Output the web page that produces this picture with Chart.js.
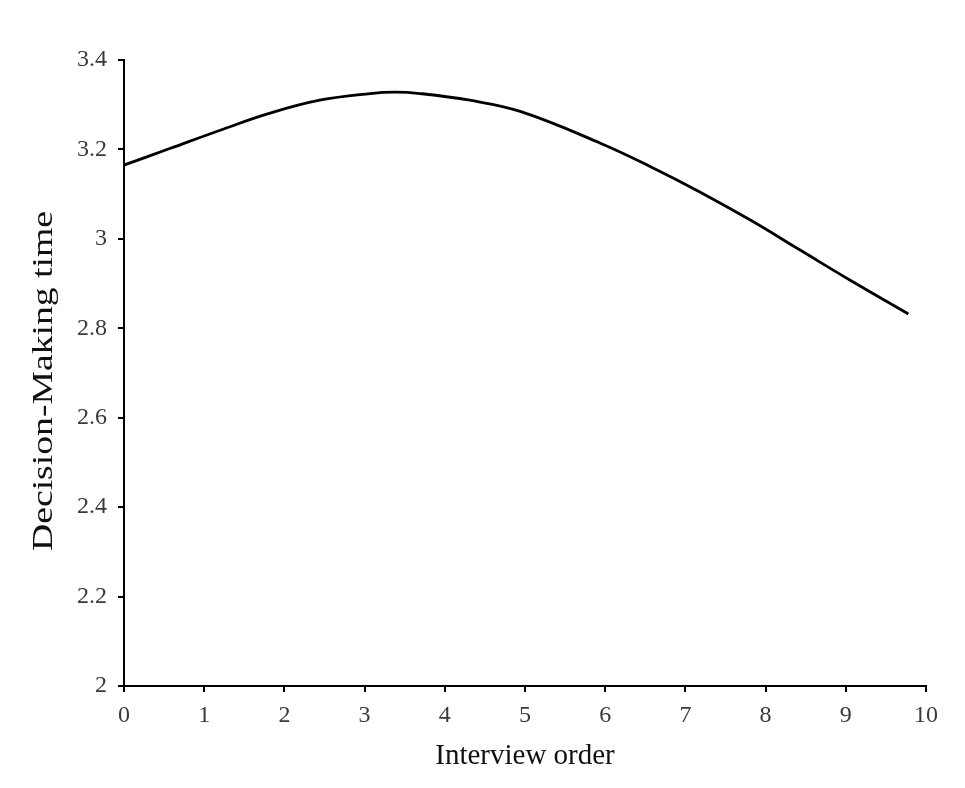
<!DOCTYPE html>
<html>
<head>
<meta charset="utf-8">
<script src="https://cdn.jsdelivr.net/npm/chart.js@4/dist/chart.umd.min.js"></script>
<style>
  html, body { margin: 0; padding: 0; background: #fff; }
  canvas { display: block; }
</style>
</head>
<body>
<canvas id="chart" width="965" height="788"></canvas>
<script>
// Curve
const interviewOrder = [0, 0.57, 1.2, 1.82, 2.44, 3.07, 3.38, 3.69, 4.31, 4.94, 5.94, 6.56, 7.18, 7.81, 8.43, 9.05, 9.78];
const decisionTime = [3.165, 3.202, 3.243, 3.281, 3.31, 3.325, 3.328, 3.325, 3.31, 3.285, 3.214, 3.162, 3.105, 3.042, 2.975, 2.908, 2.832];

const xTicks = [0, 1, 2, 3, 4, 5, 6, 7, 8, 9, 10];
const yTicks = [2, 2.2, 2.4, 2.6, 2.8, 3, 3.2, 3.4];

const xTitle = 'Interview order';
const yTitle = 'Decision-Making time';

const points = interviewOrder.map((x, i) => ({ x: x, y: decisionTime[i] }));

const font = 'Liberation Serif';
const textColor = '#3a3a3a';

// y title in the picture runs a bit longer than the plain font
const stretchedYTitle = {
    id: 'stretchedYTitle',
    afterDraw(chart) {
        const ctx = chart.ctx;
        ctx.save();
        ctx.font = '30px "' + font + '"';
        ctx.fillStyle = '#111';
        ctx.textAlign = 'center';
        ctx.textBaseline = 'alphabetic';
        const w = ctx.measureText(yTitle).width;
        ctx.translate(52, 381);
        ctx.rotate(-Math.PI / 2);
        ctx.scale(340 / w, 1);
        ctx.fillText(yTitle, 0, 0);
        ctx.restore();
    }
};

new Chart(document.getElementById('chart'), {
    type: 'line',
    data: {
        datasets: [{
            data: points,
            borderColor: '#000',
            borderWidth: 2.8,
            pointRadius: 0,
            fill: false,
            tension: 0.4
        }]
    },
    options: {
        responsive: false,
        animation: false,
        layout: { padding: { top: 60, right: 39, left: 0, bottom: 0 } },
        plugins: {
            legend: { display: false },
            tooltip: { enabled: false }
        },
        scales: {
            x: {
                type: 'linear',
                min: 0,
                max: 10,
                afterBuildTicks: scale => { scale.ticks = xTicks.map(v => ({ value: v })); },
                afterFit: scale => { scale.height = 102; },
                grid: { drawOnChartArea: false, drawTicks: true, tickLength: 6, color: '#000', lineWidth: 2 },
                border: { display: true, color: '#000', width: 2 },
                ticks: {
                    padding: 9,
                    color: textColor,
                    font: { family: font, size: 24 },
                    maxRotation: 0,
                    callback: v => String(v)
                },
                title: {
                    display: true,
                    text: xTitle,
                    color: '#111',
                    font: { family: font, size: 29 },
                    padding: { top: 0, bottom: 14 }
                }
            },
            y: {
                type: 'linear',
                min: 2,
                max: 3.4,
                afterBuildTicks: scale => { scale.ticks = yTicks.map(v => ({ value: v })); },
                afterFit: scale => { scale.width = 124; },
                grid: { drawOnChartArea: false, drawTicks: true, tickLength: 6, color: '#000', lineWidth: 2 },
                border: { display: true, color: '#000', width: 2 },
                ticks: {
                    padding: 11,
                    color: textColor,
                    font: { family: font, size: 24 },
                    callback: v => String(Math.round(v * 10) / 10)
                },
                title: { display: false }
            }
        }
    },
    plugins: [stretchedYTitle]
});
</script>
</body>
</html>
